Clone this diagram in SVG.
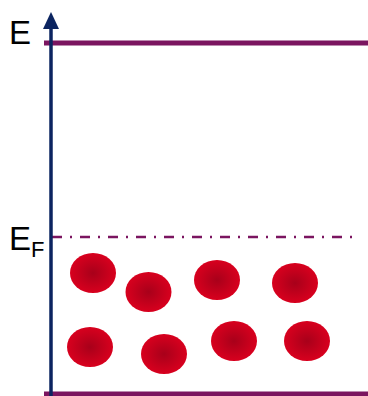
<svg xmlns="http://www.w3.org/2000/svg" width="368" height="396" viewBox="0 0 368 396">
<style>
.lvl{stroke:#7B1560;stroke-width:5;fill:none}
.ef{stroke:#7B1560;stroke-width:2.5;fill:none;stroke-dasharray:10 8 2 8}
.axis{stroke:#0B2460;stroke-width:3.5;fill:none}
.lbl{font-family:"Liberation Sans",Arial,sans-serif;fill:#000}
.e{fill:url(#g)}
</style>
<defs>
<radialGradient id="g" cx="0.5" cy="0.5" r="0.5">
<stop offset="0" stop-color="#A8001A"/>
<stop offset="1" stop-color="#D8001E"/>
</radialGradient>
</defs>
<g id="connectors">
<line class="lvl" x1="44" y1="43" x2="368" y2="43"/>
<line class="lvl" x1="44" y1="394" x2="368" y2="394"/>
<line class="ef" x1="52" y1="237" x2="356" y2="237"/>
<line class="axis" x1="51" y1="396" x2="51" y2="26"/>
<polygon points="51,12 59,29 43,29" fill="#0B2460"/>
</g>
<g id="label-E"><text class="lbl" x="9" y="44" font-size="33">E</text></g>
<g id="label-EF"><text class="lbl" x="9" y="250" font-size="33">E<tspan font-size="22" dy="7">F</tspan></text></g>
<g id="electrons">
<ellipse class="e" cx="93" cy="273" rx="23" ry="20"/>
<ellipse class="e" cx="148.5" cy="292" rx="23" ry="20"/>
<ellipse class="e" cx="217" cy="280" rx="23" ry="20"/>
<ellipse class="e" cx="295" cy="283" rx="23" ry="20"/>
<ellipse class="e" cx="90" cy="347" rx="23" ry="20"/>
<ellipse class="e" cx="164" cy="354" rx="23" ry="20"/>
<ellipse class="e" cx="234" cy="341" rx="23" ry="20"/>
<ellipse class="e" cx="307" cy="341" rx="23" ry="20"/>
</g>
</svg>
